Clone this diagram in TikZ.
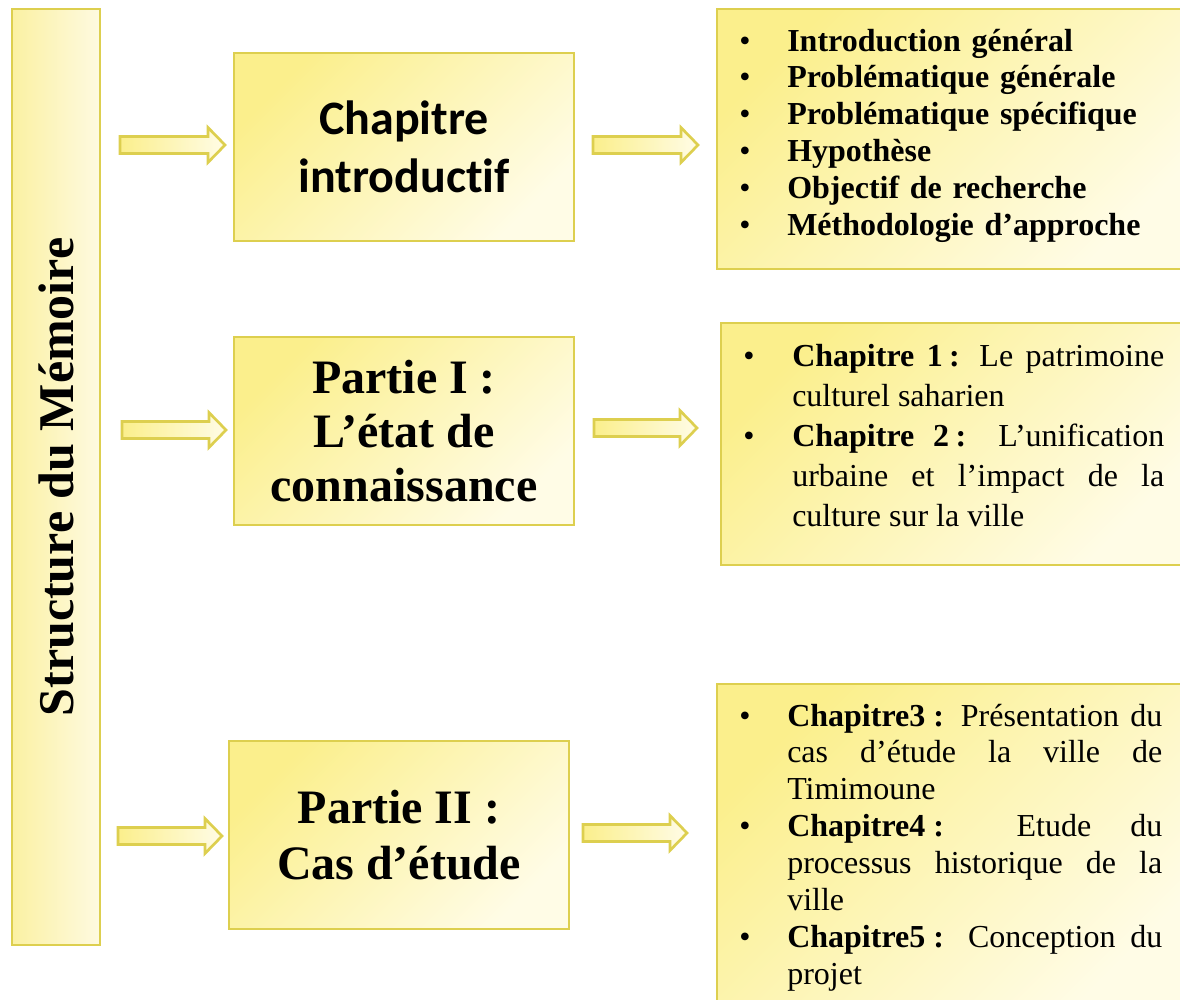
\documentclass[tikz,border=0pt]{standalone}
\usepackage{fontspec}
\setmainfont{Liberation Serif}
\newfontfamily\calib[Ligatures={NoCommon,NoContextual}]{Carlito}
\usetikzlibrary{calc}
\definecolor{yA}{HTML}{FBEF8C}
\definecolor{yB}{HTML}{FFFCE6}
\definecolor{yL}{HTML}{FBF1A3}
\definecolor{yR}{HTML}{FEFAE0}
\definecolor{bord}{HTML}{DDCF4F}
\newcommand\bitem[1]{\par\noindent\hangindent=#1\hangafter=1\makebox[#1][l]{\hspace{0.75pt}\normalfont•}}
\begin{document}
\begin{tikzpicture}[x=0.75pt,y=-0.75pt,
  box/.style={draw=bord, line width=2pt, top color=yA, bottom color=yB, shading angle=45, inner sep=0pt},
  midbox/.style={box, minimum width=255pt, minimum height=141pt, align=center},
  listtext/.style={anchor=north west, inner sep=0pt, align=justify},
  barrow/.style={draw=bord, line width=2pt, left color=yA, right color=yB,
    to path={let \p1=(\tikztostart), \p2=(\tikztotarget) in
      (\x1,\y1+6.4pt) -- (\x2-12.75pt,\y1+6.4pt) -- (\x2-12.75pt,\y1+13.1pt) -- (\x2,\y1)
      -- (\x2-12.75pt,\y1-13.1pt) -- (\x2-12.75pt,\y1-6.4pt) -- (\x1,\y1-6.4pt) -- cycle}}]
\clip (0,0) rectangle (1180,999);
% left tall box
\node[draw=bord, line width=2pt, left color=yL, right color=yR, minimum width=66pt, minimum height=702pt, inner sep=0pt] (mem) at (56,477) {};
\node[rotate=90, font=\fontsize{37.5}{45}\selectfont\bfseries] (memt) at (mem.center) {Structure du Mémoire};
% middle boxes
\node[midbox, font=\calib\bfseries\fontsize{36}{43.5}\selectfont] (c0) at (404,147) {Chapitre\\introductif};
\node[midbox, font=\bfseries\fontsize{36}{40.5}\selectfont] (p1) at (404,431) {Partie I :\\L’état de\\connaissance};
\node[midbox, font=\bfseries\fontsize{36}{42}\selectfont] (p2) at (399,835) {Partie II :\\Cas d’étude};
% right boxes
\node[box, minimum width=354.75pt, minimum height=195pt] (r1) at (953.5,139) {};
\node[box, minimum width=351.75pt, minimum height=181.5pt] (r2) at (955.5,444) {};
\node[box, minimum width=354.75pt, minimum height=244.5pt] (r3) at (953.5,847) {};
\node[listtext, align=left, text width=330pt, font=\fontsize{24}{27.64}\selectfont\bfseries] (r1t) at (738,14) {%
\bitem{36.75pt}\strut Introduction général
\bitem{36.75pt}Problématique générale
\bitem{36.75pt}Problématique spécifique
\bitem{36.75pt}Hypothèse
\bitem{36.75pt}Objectif de recherche
\bitem{36.75pt}Méthodologie d’approche\par};
\node[listtext, text width=316.5pt, font=\fontsize{24}{30}\selectfont] (r2t) at (742,326) {%
\bitem{37.5pt}\strut\textbf{Chapitre 1\hspace{0.2em}:} Le patrimoine \linebreak culturel saharien
\bitem{37.5pt}\textbf{Chapitre 2\hspace{0.2em}:} L’unification \linebreak urbaine et l’impact de la \linebreak culture sur la ville\par};
\node[listtext, text width=318pt, font=\fontsize{24}{27.64}\selectfont] (r3t) at (738,689) {%
\bitem{36.75pt}\strut\textbf{Chapitre3\hspace{0.25em}:} Présentation du \linebreak cas d’étude la ville de \linebreak Timimoune
\bitem{36.75pt}\textbf{Chapitre4\hspace{0.25em}:} Etude du \linebreak processus historique de la \linebreak ville
\bitem{36.75pt}\textbf{Chapitre5\hspace{0.25em}:} Conception du \linebreak projet\par};
% arrows
\coordinate (a1s) at (120,145); \coordinate (a1e) at (225,145);
\coordinate (a2s) at (593,145); \coordinate (a2e) at (698,145);
\coordinate (a3s) at (122,430); \coordinate (a3e) at (226,430);
\coordinate (a4s) at (594,428); \coordinate (a4e) at (697,428);
\coordinate (a5s) at (118,836); \coordinate (a5e) at (222,836);
\coordinate (a6s) at (583,833); \coordinate (a6e) at (687,833);
\draw[barrow] (a1s) to (a1e);
\draw[barrow] (a2s) to (a2e);
\draw[barrow] (a3s) to (a3e);
\draw[barrow] (a4s) to (a4e);
\draw[barrow] (a5s) to (a5e);
\draw[barrow] (a6s) to (a6e);
\end{tikzpicture}
\end{document}
